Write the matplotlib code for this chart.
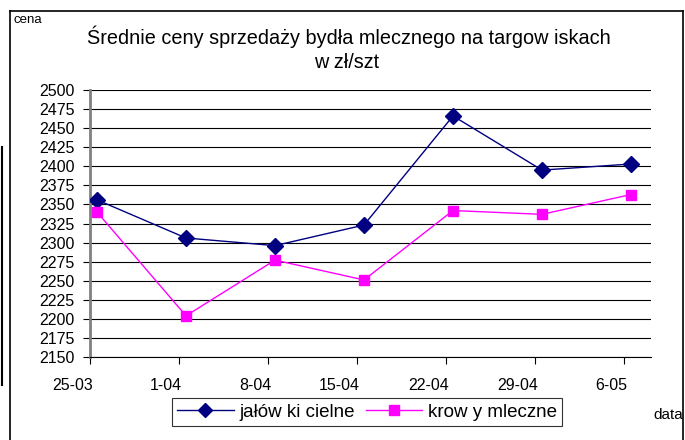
import numpy as np
import matplotlib
matplotlib.use("Agg")
import matplotlib.pyplot as plt
from matplotlib.lines import Line2D

plt.rcParams['font.family'] = ['Liberation Sans', 'DejaVu Sans']

dates = ["25-03", "1-04", "8-04", "15-04", "22-04", "29-04", "6-05"]
jalowki = [2356, 2306, 2296, 2323, 2466, 2395, 2403]
krowy = [2340, 2204, 2277, 2251, 2342, 2337, 2363]
y_ticks = list(range(2150, 2501, 25))

title_lines = ["Średnie ceny sprzedaży bydła mlecznego na targow iskach", "w zł/szt"]
series_names = ["jałów ki cielne", "krow y mleczne"]

W, H = 685, 440
fig = plt.figure(figsize=(W / 100, H / 100), dpi=100)

# plot area in pixels
left, right, top, bottom = 90, 651, 90, 357
ax = fig.add_axes([left / W, 1 - bottom / H, (right - left) / W, (bottom - top) / H])

step = 89.0  # px between categories
x = np.arange(len(dates))
ax.plot(x, jalowki, color="#000080", lw=1, marker="D", ms=8, zorder=4)
ax.plot(x, krowy, color="#FF00FF", lw=1, marker="s", ms=7, zorder=4)

ax.set_xlim(-7 / step, -7 / step + (right - left) / step)
ax.set_ylim(2150, 2500)

ax.set_yticks(y_ticks)
ax.set_yticklabels([str(v) for v in y_ticks], fontsize=11.5)
ax.yaxis.grid(True, color="black", lw=0.8)
ax.set_axisbelow(True)

# tick marks sit between the points, labels end just right of the ticks
ax.set_xticks(x - 7 / step)
ax.set_xticklabels([])
ax.set_xticks(x - 4 / step, minor=True)
ax.set_xticklabels(dates, minor=True, fontsize=11.5, ha="right")
ax.tick_params(axis="x", which="major", length=5, width=0.8, color="black")
ax.tick_params(axis="x", which="minor", length=0, pad=15)
ax.tick_params(axis="y", length=5, width=0.8, color="black", pad=6)

for s in ("top", "right"):
    ax.spines[s].set_visible(False)
ax.spines["left"].set_color("#808080")
ax.spines["left"].set_linewidth(2)
ax.spines["bottom"].set_color("black")
ax.spines["bottom"].set_linewidth(0.8)

fig.text(349 / W, 1 - 37 / H, title_lines[0], ha="center", va="center", fontsize=14.3)
fig.text(347 / W, 1 - 62 / H, title_lines[1], ha="center", va="center", fontsize=14.3)
fig.text(13 / W, 1 - 20 / H, "cena", ha="left", va="center", fontsize=9.5)
fig.text(683 / W, 1 - 415 / H, "data", ha="right", va="center", fontsize=11)

handles = [
    Line2D([], [], color="#000080", lw=1, marker="D", ms=7),
    Line2D([], [], color="#FF00FF", lw=1, marker="s", ms=7),
]
leg = fig.legend(handles, series_names, loc="center", ncol=2,
                 bbox_to_anchor=(367 / W, 1 - 412 / H), fontsize=13.5,
                 frameon=True, fancybox=False, edgecolor="black",
                 handlelength=3.0, columnspacing=0.6, handletextpad=0.3,
                 borderpad=0.3, borderaxespad=0)
leg.get_frame().set_linewidth(0.8)

# outer chart frame and the stray line on the left
frame = dict(color="black", lw=1.2, transform=fig.transFigure, clip_on=False)
fig.add_artist(Line2D([10 / W, 10 / W], [0, 1 - 11 / H], **frame))
fig.add_artist(Line2D([10 / W, 683 / W], [1 - 11 / H, 1 - 11 / H], **frame))
fig.add_artist(Line2D([683 / W, 683 / W], [0, 1 - 11 / H], **frame))
fig.add_artist(Line2D([2 / W, 2 / W], [1 - 385 / H, 1 - 147 / H],
                      color="black", lw=1.5, transform=fig.transFigure))

fig.savefig("out.png", dpi=100)
